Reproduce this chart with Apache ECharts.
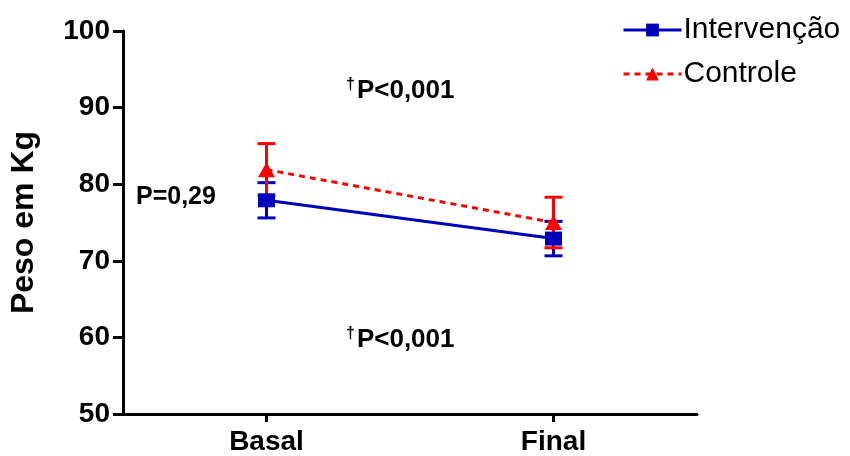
<!DOCTYPE html>
<html><head><meta charset="utf-8">
<script src="https://cdn.jsdelivr.net/npm/echarts@6/dist/echarts.min.js"></script>
<style>html,body{margin:0;padding:0;background:#fff}#c{width:850px;height:456px}</style>
</head><body><div id="c"></div>
<script>
const categories = ['Basal', 'Final'];
const intervencaoMean = [77.9, 72.9];
const intervencaoErr = [2.3, 2.25];
const controleMean = [81.9, 75.0];
const controleErr = [3.4, 3.3];
const yTicks = [50, 60, 70, 80, 90, 100];

const font = 'Liberation Sans, Arial, sans-serif';
const chart = echarts.init(document.getElementById('c'));

function errData(mean, err) {
  return mean.map((m, i) => [i, m - err[i], m + err[i]]);
}
function errSeries(mean, err, color, z) {
  return {
    type: 'custom', z: z, silent: true,
    data: errData(mean, err),
    renderItem: function (params, api) {
      const lo = api.coord([api.value(0), api.value(1)]);
      const hi = api.coord([api.value(0), api.value(2)]);
      const hw = 9;
      const st = { stroke: color, lineWidth: 3 };
      return { type: 'group', children: [
        { type: 'line', shape: { x1: lo[0], y1: lo[1], x2: hi[0], y2: hi[1] }, style: st },
        { type: 'line', shape: { x1: lo[0] - hw, y1: lo[1], x2: lo[0] + hw, y2: lo[1] }, style: st },
        { type: 'line', shape: { x1: hi[0] - hw, y1: hi[1], x2: hi[0] + hw, y2: hi[1] }, style: st }
      ]};
    }
  };
}

const richP = {
  s: { fontFamily: font, fontSize: 16, fontWeight: 'bold', verticalAlign: 'top', padding: [0, 2, 12, 0] },
  t: { fontFamily: font, fontSize: 26, fontWeight: 'bold' }
};

const option = {
  animation: false,
  grid: { left: 121, top: 31, right: 153, bottom: 41 },
  legend: {
    left: 617, top: 10, orient: 'vertical', itemGap: 14,
    itemWidth: 58, itemHeight: 16,
    lineStyle: { width: 3 },
    textStyle: { fontFamily: font, fontSize: 30, color: '#000', padding: [0, 0, 0, -3] },
    data: ['Intervenção', 'Controle']
  },
  xAxis: {
    type: 'category', data: categories, boundaryGap: true,
    axisLine: { lineStyle: { color: '#000', width: 3 } },
    axisTick: { show: true, alignWithLabel: true, interval: 0, length: 8, lineStyle: { color: '#000', width: 3 } },
    axisLabel: { fontFamily: font, fontSize: 28, fontWeight: 'bold', color: '#000', margin: 14 }
  },
  yAxis: {
    type: 'value', min: 50, max: 100, interval: 10,
    name: 'Peso em Kg', nameLocation: 'middle', nameGap: 83,
    nameTextStyle: { fontFamily: font, fontSize: 32, fontWeight: 'bold', color: '#000' },
    axisLine: { show: true, lineStyle: { color: '#000', width: 3 } },
    axisTick: { show: true, length: 10, lineStyle: { color: '#000', width: 3 } },
    axisLabel: { fontFamily: font, fontSize: 28, fontWeight: 'bold', color: '#000', margin: 13,
      formatter: v => yTicks.includes(v) ? String(v) : '' },
    splitLine: { show: false }
  },
  series: [
    errSeries(intervencaoMean, intervencaoErr, '#0000bb', 2),
    errSeries(controleMean, controleErr, '#ff0000', 3),
    {
      name: 'Intervenção', type: 'line', data: intervencaoMean, z: 4,
      symbol: 'rect', symbolSize: [17, 14],
      lineStyle: { color: '#0000bb', width: 3 },
      itemStyle: { color: '#0000bb' }
    },
    {
      name: 'Controle', type: 'line', data: controleMean, z: 5,
      symbol: 'triangle', symbolSize: [17, 15],
      lineStyle: { color: '#ff0000', width: 3, type: [6, 5] },
      itemStyle: { color: '#ff0000' }
    }
  ],
  graphic: [
    { type: 'text', left: 136, top: 185, style: { text: 'P=0,29', font: 'bold 25px ' + font, fill: '#000' } },
    { type: 'text', left: 346, top: 77, style: { rich: richP, text: '{s|†}{t|P<0,001}', fill: '#000' } },
    { type: 'text', left: 346, top: 326, style: { rich: richP, text: '{s|†}{t|P<0,001}', fill: '#000' } }
  ]
};
chart.setOption(option);
</script></body></html>
